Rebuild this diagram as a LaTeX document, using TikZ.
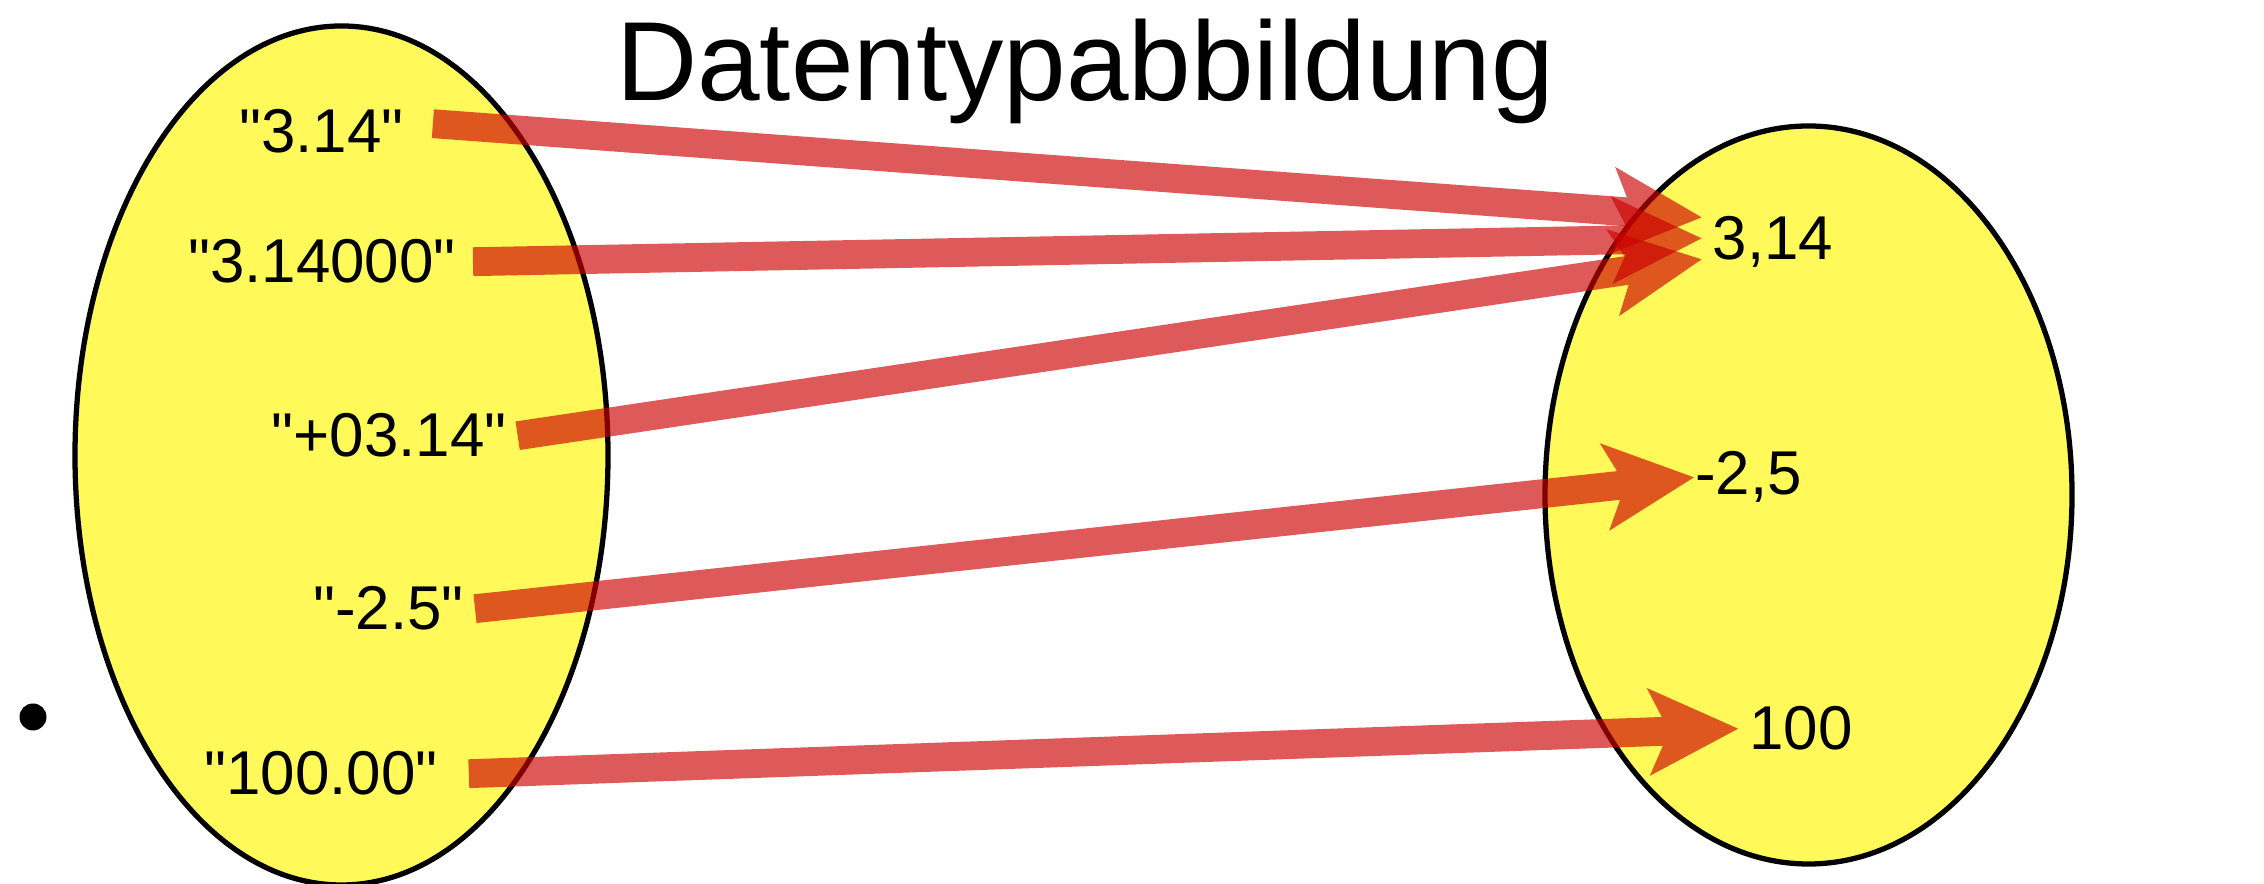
\documentclass[tikz,border=0pt]{standalone}
\usepackage{fontspec}
\setmainfont{Liberation Sans}
\usepackage{xcolor}
\usetikzlibrary{shapes.geometric, arrows.meta}
\definecolor{setyellow}{RGB}{255,250,90}
\definecolor{mapred}{RGB}{204,0,0}
\newcommand{\strval}[1]{\textquotedbl#1\textquotedbl}
\tikzset{
  valset/.style   = {ellipse, draw=black, line width=1.5pt, fill=setyellow},
  val/.style      = {font=\fontsize{17.6}{21}\selectfont, anchor=base,
                     inner sep=3pt},
  maparrow/.style = {line width=8.2pt, draw=mapred,
                     -{Stealth[length=0.9cm, width=0.88cm, inset=0.21cm,
                               line width=0pt]}},
  mapgroup/.style = {transparency group, opacity=0.65},
}

\begin{document}
\begin{tikzpicture}
  \useasboundingbox (0,0) rectangle (22.64,8.84);

  \node[valset, minimum width=5.33cm, minimum height=8.59cm] (strings) at (3.415,4.285) {};
  \node[valset, minimum width=5.27cm, minimum height=7.38cm] (numbers) at (18.085,3.89) {};

  \node[font=\fontsize{32}{38}\selectfont, anchor=base] (title) at (10.85,7.83) {Datentypabbildung};
  \node[circle, fill=black, minimum size=0.27cm, inner sep=0pt] (dot) at (0.33,1.67) {};

  % strings on the left
  \node[val] (s1) at (3.215,7.31) {\strval{3.14}};
  \node[val] (s2) at (3.22,6.01)  {\strval{3.14000}};
  \node[val] (s3) at (3.89,4.27)  {\strval{+03.14}};
  \node[val] (s4) at (3.885,2.54) {\strval{-2.5}};
  \node[val] (s5) at (3.21,0.89)  {\strval{100.00}};

  % numbers on the right
  \node[val] (t1) at (17.73,6.24)  {3,14};
  \node[val] (t2) at (17.485,3.89) {-2,5};
  \node[val] (t3) at (18.01,1.34)  {100};

  \begin{scope}[mapgroup]
    \draw[maparrow] ([xshift=0.18cm, yshift=0.08cm]s1.east) -- ([yshift=0.25cm]t1.west);
  \end{scope}
  \begin{scope}[mapgroup]
    \draw[maparrow] ([xshift=0.06cm]s2.east) -- ([yshift=0.04cm]t1.west);
  \end{scope}
  \begin{scope}[mapgroup]
    \draw[maparrow] (s3.east) -- ([yshift=-0.17cm]t1.west);
  \end{scope}
  \begin{scope}[mapgroup]
    \draw[maparrow] (s4.east) -- ([xshift=0.1cm]t2.west);
  \end{scope}
  \begin{scope}[mapgroup]
    \draw[maparrow] ([xshift=0.2cm]s5.east) -- (t3.west);
  \end{scope}
\end{tikzpicture}
\end{document}
